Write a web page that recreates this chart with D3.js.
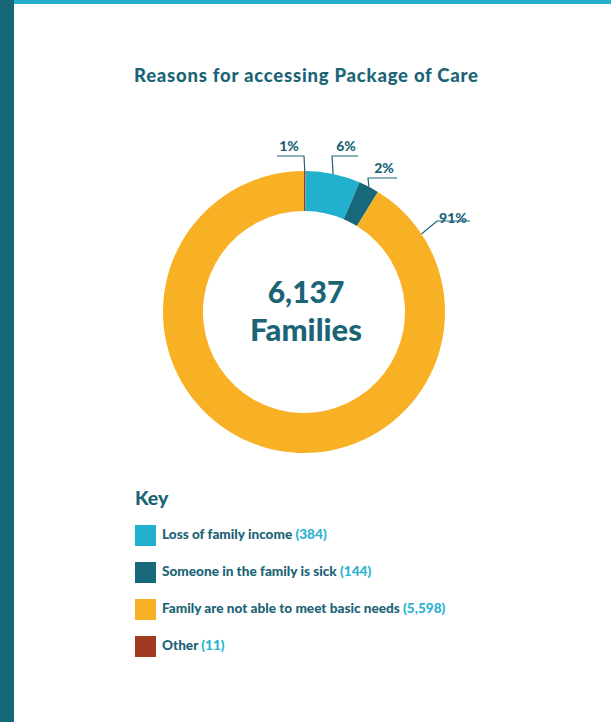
<!DOCTYPE html>
<html>
<head>
<meta charset="utf-8">
<script src="https://cdn.jsdelivr.net/npm/d3@7"></script>
<style>
  html, body { margin: 0; padding: 0; background: #fff; }
  svg { display: block; }
  text { font-family: "Lato", "Open Sans", sans-serif; font-weight: 900; }
</style>
</head>
<body>
<svg id="chart" width="611" height="722"></svg>
<script>
// Reasons for accessing Package of Care (families)
const categories = ["Other", "Loss of family income", "Someone in the family is sick", "Family are not able to meet basic needs"];
const values = [11, 384, 144, 5598];
const percentLabels = ["1%", "6%", "2%", "91%"];
const colors = ["#a03a21", "#21b0ce", "#17687a", "#f8b124"];
// legend lists categories in this order
const legendOrder = [1, 2, 3, 0];
const centerValue = "6,137";
const centerLabel = "Families";
const title = "Reasons for accessing Package of Care";

const W = 611, H = 722;
const svg = d3.select("#chart");
const dark = "#1b6476";
const light = "#29b3d1";

// page frame
svg.append("rect").attr("x", 0).attr("y", 0).attr("width", 14).attr("height", H).attr("fill", "#17677a");
svg.append("rect").attr("x", 14).attr("y", 0).attr("width", W - 14).attr("height", 4).attr("fill", "#22b0cc");

svg.append("text").attr("x", 306).attr("y", 82).attr("text-anchor", "middle")
  .attr("font-size", 18.5).attr("fill", dark)
  .attr("textLength", 344).attr("lengthAdjust", "spacing").text(title);

const cx = 304, cy = 312, rOuter = 141, rInner = 101;
const g = svg.append("g").attr("transform", `translate(${cx},${cy})`);

const pie = d3.pie().sort(null).value(d => d);
const arcs = pie(values);
const arc = d3.arc().innerRadius(rInner).outerRadius(rOuter);

g.selectAll("path.slice").data(arcs).enter().append("path")
  .attr("class", "slice")
  .attr("d", arc)
  .attr("fill", (d, i) => colors[i]);

// leader lines: anchor angle on the ring, elbow point, shelf end, label position
const leaders = [
  { angle: d => (d.startAngle + d.endAngle) / 2, elbow: [304, 156], shelf: 277, label: [289, 151] },
  { angle: d => (d.startAngle + d.endAngle) / 2, elbow: [332, 156], shelf: 358, label: [346, 151] },
  { angle: d => (d.startAngle + d.endAngle) / 2, elbow: [368, 178], shelf: 397, label: [384, 173] },
  { angle: () => 0.985, elbow: [437, 221], shelf: 470, label: [453, 223] }
];

arcs.forEach((d, i) => {
  const L = leaders[i];
  const a = L.angle(d);
  const px = cx + rOuter * Math.sin(a), py = cy - rOuter * Math.cos(a);
  svg.append("polyline")
    .attr("points", `${px},${py} ${L.elbow[0]},${L.elbow[1]} ${L.shelf},${L.elbow[1]}`)
    .attr("fill", "none").attr("stroke", "#1b6476").attr("stroke-width", 1.2);
  svg.append("text").attr("x", L.label[0]).attr("y", L.label[1]).attr("text-anchor", "middle")
    .attr("font-size", 14).attr("fill", dark).text(percentLabels[i]);
});

svg.append("text").attr("x", cx + 2).attr("y", 303).attr("text-anchor", "middle")
  .attr("font-size", 30).attr("fill", dark).text(centerValue);
svg.append("text").attr("x", cx + 2).attr("y", 341).attr("text-anchor", "middle")
  .attr("font-size", 31).attr("fill", dark).text(centerLabel);

// key
svg.append("text").attr("x", 135).attr("y", 505).attr("font-size", 19.5).attr("fill", dark).text("Key");

const rowY = d3.scalePoint().domain(d3.range(legendOrder.length)).range([525, 636]);
legendOrder.forEach((ci, r) => {
  const y0 = rowY(r);
  svg.append("rect").attr("x", 135).attr("y", y0).attr("width", 21).attr("height", 21).attr("fill", colors[ci]);
  const t = svg.append("text").attr("x", 162).attr("y", y0 + 14).attr("font-size", 13.6).attr("fill", dark);
  t.append("tspan").text(categories[ci] + " ");
  t.append("tspan").attr("fill", light).text("(" + d3.format(",")(values[ci]) + ")");
});
</script>
</body>
</html>
